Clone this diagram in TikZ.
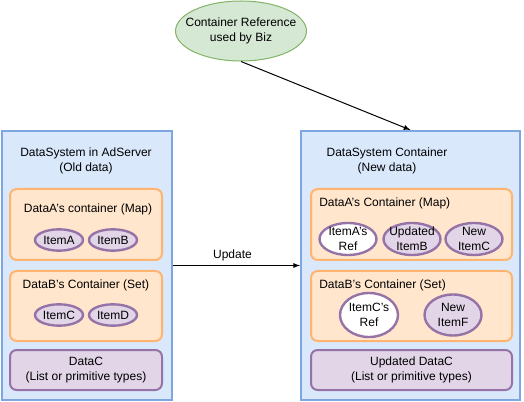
\documentclass[tikz,border=0pt]{standalone}
\usepackage{fontspec}
\setmainfont{Liberation Sans}
\usetikzlibrary{positioning,shapes,arrows,calc}
\definecolor{sysfill}{HTML}{DAE8FC}
\definecolor{sysline}{HTML}{7EA6E0}
\definecolor{confill}{HTML}{FFE6CC}
\definecolor{conline}{HTML}{FFB570}
\definecolor{itemfill}{HTML}{E1D5E7}
\definecolor{itemline}{HTML}{9673A6}
\definecolor{reffill}{HTML}{D5E8D4}
\definecolor{refline}{HTML}{82B366}

\tikzset{
  sysbox/.style={draw=sysline, fill=sysfill, line width=1.5pt, inner sep=0},
  conbox/.style={draw=conline, fill=confill, line width=1.5pt, rounded corners=5pt, inner sep=0},
  databox/.style={draw=itemline, fill=itemfill, line width=1.5pt, rounded corners=5pt, inner sep=0},
  item/.style={ellipse, draw=itemline, fill=itemfill, line width=1.8pt, inner sep=0},
  refitem/.style={item, fill=white},
  txt/.style={inner sep=0, align=center, font=\fontsize{9}{11.25}\selectfont},
}

\begin{document}
\begin{tikzpicture}[x=0.75pt, y=-0.75pt]
  \useasboundingbox (0,0) rectangle (524,402);
  % the two systems
  \node[sysbox, minimum width=127.5pt, minimum height=201.75pt] (lsys) at (87,265.5) {};
  \node[sysbox, minimum width=164.25pt, minimum height=201.75pt] (rsys) at (410.5,265.5) {};
  \node[txt] at (86,160.5) {DataSystem in AdServer\\(Old data)};
  \node[txt] at (387,160.5) {DataSystem Container\\(New data)};

  % old data
  \node[conbox, minimum width=114pt, minimum height=53.25pt] (lmap) at (86,224.5) {};
  \node[txt] at (88,209) {DataA's container (Map)};
  \node[item, minimum width=36pt, minimum height=16pt] (ia) at (59,240) {};
  \node[txt] at (ia) {ItemA};
  \node[item, minimum width=36pt, minimum height=16pt] (ib) at (113,240) {};
  \node[txt] at (ib) {ItemB};
  \node[conbox, minimum width=114pt, minimum height=52.5pt] (lset) at (86,306) {};
  \node[txt] at (86,285) {DataB's Container (Set)};
  \node[item, minimum width=36pt, minimum height=16pt] (ic) at (59,315) {};
  \node[txt] at (ic) {ItemC};
  \node[item, minimum width=36pt, minimum height=16pt] (id) at (113,315) {};
  \node[txt] at (id) {ItemD};
  \node[databox, minimum width=114pt, minimum height=30pt] (ldata) at (86,370) {};
  \node[txt] at (ldata) {DataC\\(List or primitive types)};

  % new data
  \node[conbox, minimum width=150.75pt, minimum height=53.25pt] (rmap) at (411.5,224.5) {};
  \node[txt, anchor=west] at (319,203) {DataA's Container (Map)};
  \node[refitem, minimum width=42.75pt, minimum height=24pt] (ra) at (348,239) {};
  \node[txt] at (ra) {ItemA's\\Ref};
  \node[item, minimum width=42.75pt, minimum height=24pt] (rb) at (412,239) {};
  \node[txt] at (rb) {Updated\\ItemB};
  \node[item, minimum width=42.75pt, minimum height=24pt] (rc) at (474,239) {};
  \node[txt] at (rc) {New\\ItemC};
  \node[conbox, minimum width=150.75pt, minimum height=52.5pt] (rset) at (411.5,306) {};
  \node[txt, anchor=west] at (319,285) {DataB's Container (Set)};
  \node[refitem, minimum width=43.5pt, minimum height=33pt] (rcref) at (369,315) {};
  \node[txt] at (rcref) {ItemC's\\Ref};
  \node[item, minimum width=42.75pt, minimum height=30.75pt] (rf) at (453,315) {};
  \node[txt] at (rf) {New\\ItemF};
  \node[databox, minimum width=150.75pt, minimum height=30pt] (rdata) at (411.5,370) {};
  \node[txt] at (rdata) {Updated DataC\\(List or primitive types)};

  % reference used by biz
  \node[ellipse, draw=refline, fill=reffill, line width=0.75pt, minimum width=98.25pt, minimum height=45pt, inner sep=0] (ref) at (241,31) {};
  \node[txt] at (ref) {Container Reference\\used by Biz};

  \draw[-latex, line width=0.75pt] (ref.south) -- (rsys.north);
  \draw[-latex, line width=0.75pt] (lsys.east) -- node[txt, above=3pt, xshift=-3pt] {Update} (rsys.west);
\end{tikzpicture}
\end{document}
